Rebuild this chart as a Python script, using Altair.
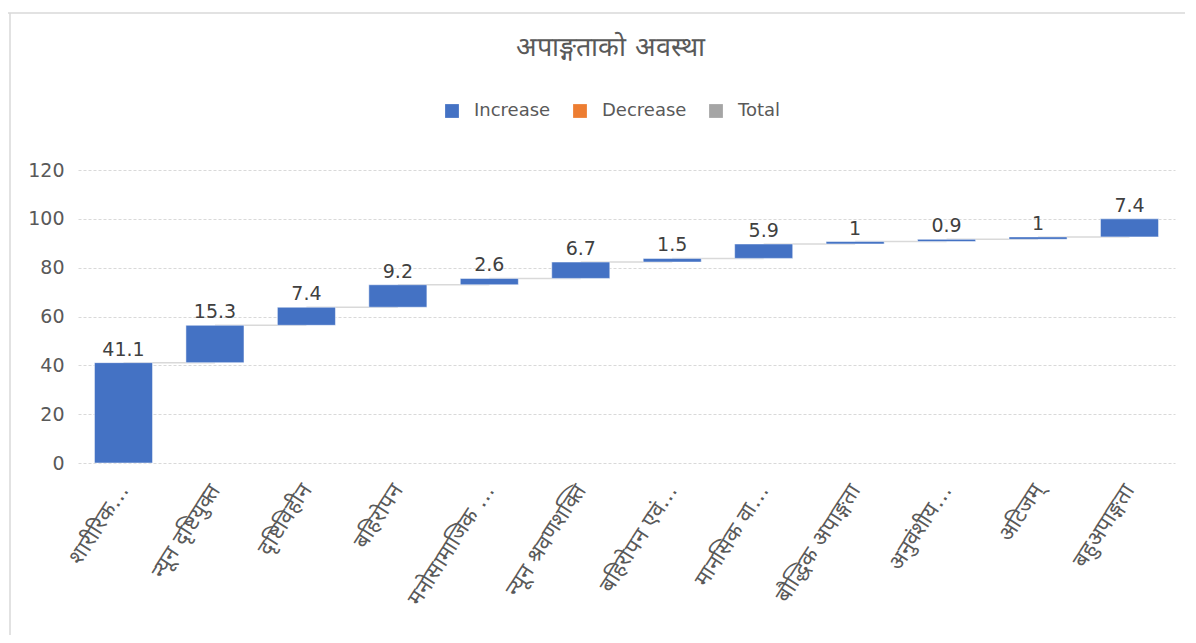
import altair as alt
import pandas as pd

categories = [
    "शारीरिक…",
    "न्यून दृष्टियुक्त",
    "दृष्टिविहीन",
    "बहिरोपन",
    "मनोसामाजिक …",
    "न्यून श्रवणशक्ति",
    "बहिरोपन एवं…",
    "मानसिक वा…",
    "बौद्धिक अपाङ्गता",
    "अनुवंशीय…",
    "अटिजम्",
    "बहुअपाङ्गता",
]
values = [41.1, 15.3, 7.4, 9.2, 2.6, 6.7, 1.5, 5.9, 1, 0.9, 1, 7.4]
legend_items = ["Increase", "Decrease", "Total"]
legend_colors = ["#4472C4", "#ED7D31", "#A5A5A5"]
title_text = "अपाङ्गताको अवस्था"

rows = []
running = 0.0
for i, (c, v) in enumerate(zip(categories, values)):
    start = running
    running = round(running + v, 4)
    rows.append({
        "cat": c,
        "value": v,
        "label": f"{v:g}",
        "start": start,
        "end": running,
        "next": categories[i + 1] if i + 1 < len(categories) else None,
        "type": "Increase",
    })
df = pd.DataFrame(rows)

FONT = "'DejaVu Sans', sans-serif"
GREY_TXT = "#595959"

x_enc = alt.X(
    "cat:N",
    sort=categories,
    title=None,
    scale=alt.Scale(paddingInner=0.365, paddingOuter=0.18),
    axis=alt.Axis(
        labelAngle=-57,
        labelAlign="right",
        labelBaseline="middle",
        labelFontSize=22,
        labelColor=GREY_TXT,
        labelFont=FONT,
        labelPadding=23,
        labelLimit=300,
        ticks=False,
        domain=False,
        grid=False,
    ),
)
y_scale = alt.Scale(domain=[0, 120], nice=False)
y_axis = alt.Axis(
    values=[0, 20, 40, 60, 80, 100, 120],
    labelFontSize=19,
    labelColor=GREY_TXT,
    labelFont=FONT,
    labelPadding=14,
    ticks=False,
    domain=False,
    grid=True,
    gridColor="#D9D9D9",
    gridDash=[3, 2],
    gridWidth=1,
    title=None,
)

base = alt.Chart(df)

connectors = base.transform_filter("datum.next != null").mark_rule(
    color="#D9D9D9", strokeWidth=1.5
).encode(
    x=x_enc,
    x2="next:N",
    y=alt.Y("end:Q", scale=y_scale, axis=y_axis),
)

bars = base.mark_bar(stroke="white", strokeWidth=0.5).encode(
    x=x_enc,
    y=alt.Y("start:Q", scale=y_scale, axis=y_axis),
    y2="end:Q",
    color=alt.Color(
        "type:N",
        scale=alt.Scale(domain=legend_items, range=legend_colors),
        legend=alt.Legend(
            title=None,
            orient="none",
            legendX=365,
            legendY=-68,
            direction="horizontal",
            symbolType="square",
            symbolSize=190,
            symbolStrokeWidth=0,
            labelFontSize=18,
            labelColor=GREY_TXT,
            labelFont=FONT,
            labelOffset=13,
            columnPadding=20,
        ),
    ),
)

labels = base.mark_text(
    baseline="bottom", dy=-3, fontSize=19, color="#404040", font=FONT
).encode(
    x=x_enc,
    y=alt.Y("end:Q", scale=y_scale),
    text="label:N",
)

frame_top = alt.Chart(pd.DataFrame({"k": [0]})).mark_rule(
    color="#D9D9D9", strokeWidth=1.5
).encode(x=alt.value(-70), x2=alt.value(1120), y=alt.value(-157))
frame_left = alt.Chart(pd.DataFrame({"k": [0]})).mark_rule(
    color="#D9D9D9", strokeWidth=1.5
).encode(x=alt.value(-68), y=alt.value(-157), y2=alt.value(480))

chart = alt.layer(frame_top, frame_left, connectors, bars, labels).properties(
    width=1097,
    height=293,
    padding={"left": 70, "top": 162, "right": 10, "bottom": 172},
    autosize=alt.AutoSizeParams(type="none"),
    title=alt.Title(
        title_text,
        fontSize=27,
        font=FONT,
        color=GREY_TXT,
        fontWeight="normal",
        anchor="middle",
        dx=-16,
        offset=-50,
    ),
).configure_view(stroke=None)

chart.save("out.html", embed_options={"renderer": "svg", "actions": False})
